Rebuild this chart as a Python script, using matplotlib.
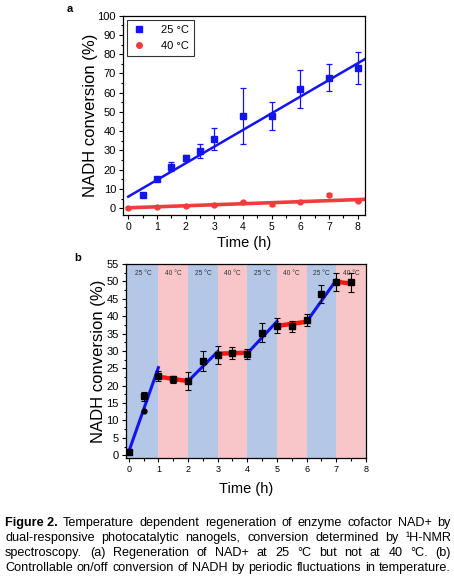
import matplotlib
matplotlib.use("Agg")
import matplotlib.pyplot as plt
import numpy as np
from matplotlib.lines import Line2D
from matplotlib.ticker import MultipleLocator

plt.rcParams["font.family"] = ["Liberation Sans", "DejaVu Sans"]
plt.rcParams["axes.linewidth"] = 0.9

BLUE = "#1414f0"
RED = "#f03c3c"
BAND_BLUE = "#b4c7e6"
BAND_RED = "#f8c6c8"

# panel a: conversion at constant temperature
time_25 = [0.5, 1, 1.5, 2, 2.5, 3, 4, 5, 6, 7, 8]
conv_25 = [6.8, 15.4, 21.5, 26.2, 29.7, 35.8, 47.9, 48.0, 61.8, 67.9, 72.8]
err_25 = [0.4, 1.0, 2.3, 1.5, 3.5, 5.7, 14.3, 7.3, 9.8, 6.8, 8.5]
time_40 = [0, 1, 2, 3, 4, 5, 6, 7, 8]
conv_40 = [0.0, 0.5, 1.2, 1.8, 3.0, 2.0, 3.3, 7.1, 3.8]
err_40 = [0.4, 0.5, 0.6, 0.8, 0.8, 0.7, 0.8, 1.0, 0.6]
fit_x = [0, 8.25]
fit_25 = [6.0, 77.5]
fit_40 = [0.2, 4.6]

# panel b: periodic switching 25 / 40 C
time_b = [0, 0.5, 1, 1.5, 2, 2.5, 3, 3.5, 4, 4.5, 5, 5.5, 6, 6.5, 7, 7.5]
conv_b = [1.0, 17.0, 22.8, 21.8, 21.3, 27.1, 28.8, 29.4, 29.2, 35.3, 37.3, 37.1, 38.8, 46.3, 49.9, 49.7]
err_b = [0.3, 1.3, 1.5, 0.9, 2.5, 2.9, 2.5, 1.8, 1.5, 2.6, 2.2, 1.6, 1.7, 2.6, 2.6, 2.8]
extra_time_b = [0.5]
extra_conv_b = [12.8]
seg_25_x = [[0, 1], [2, 3], [4, 5], [6, 7]]
seg_25_y = [[1.0, 25.2], [21.3, 29.8], [29.3, 38.5], [38.4, 50.4]]
seg_40_x = [[1, 2], [3, 4], [5, 6], [7, 7.5]]
seg_40_y = [[22.6, 21.3], [29.2, 29.5], [37.2, 38.4], [49.9, 49.4]]
band_edges = [-0.1, 1, 2, 3, 4, 5, 6, 7, 8]
band_labels = ["25 °C", "40 °C", "25 °C", "40 °C", "25 °C", "40 °C", "25 °C", "40 °C"]

caption = [
    [("Figure 2.", "bold"), ("Temperature", "normal"), ("dependent", "normal"), ("regeneration", "normal"),
     ("of", "normal"), ("enzyme", "normal"), ("cofactor", "normal"), ("NAD+", "normal"), ("by", "normal")],
    "dual-responsive photocatalytic nanogels, conversion determined by ¹H-NMR",
    "spectroscopy. (a) Regeneration of NAD+ at 25 °C but not at 40 °C. (b)",
    "Controllable on/off conversion of NADH by periodic fluctuations in temperature.",
]

fig = plt.figure(figsize=(4.54, 5.83), dpi=100)


def style_axis(ax):
    ax.tick_params(which="both", direction="out", labelsize=7.5, width=0.8, pad=2)
    ax.tick_params(which="major", length=3)
    ax.tick_params(which="minor", length=1.8)


# ---- panel a
ax1 = fig.add_axes([0.271, 0.631, 0.533, 0.342])
ax1.plot(fit_x, fit_25, color=BLUE, lw=1.8, zorder=2)
ax1.plot(fit_x, fit_40, color=RED, lw=2.6, zorder=2)
ax1.errorbar(time_25, conv_25, yerr=err_25, fmt="s", ms=4.5, color=BLUE, elinewidth=0.9,
             capsize=2.2, capthick=0.9, zorder=3)
ax1.errorbar(time_40, conv_40, yerr=err_40, fmt="o", ms=3.5, color=RED, elinewidth=0.9,
             capsize=2.2, capthick=0.9, zorder=3)
ax1.set_xlim(-0.18, 8.25)
ax1.set_ylim(-3.6, 100)
ax1.xaxis.set_major_locator(MultipleLocator(1))
ax1.xaxis.set_minor_locator(MultipleLocator(0.5))
ax1.yaxis.set_major_locator(MultipleLocator(10))
ax1.yaxis.set_minor_locator(MultipleLocator(5))
style_axis(ax1)
ax1.tick_params(axis="y", labelsize=8)
ax1.set_xlabel("Time (h)", fontsize=10.5, labelpad=3)
ax1.set_ylabel("NADH conversion (%)", fontsize=12, labelpad=0)
handles = [Line2D([], [], ls="none", marker="s", ms=4, color=BLUE),
           Line2D([], [], ls="none", marker="o", ms=4, color=RED)]
leg = ax1.legend(handles, ["25 °C", "40 °C"], loc="upper left", fontsize=8, frameon=True,
                 fancybox=False, handletextpad=1.4, borderpad=0.45, handlelength=1.2,
                 borderaxespad=0.4, labelspacing=0.5)
leg.get_frame().set_edgecolor("black")
leg.get_frame().set_linewidth(0.8)
fig.text(70 / 454, 1 - 9 / 583, "a", fontsize=8, fontweight="bold", ha="center", va="center")

# ---- panel b
ax2 = fig.add_axes([0.277, 0.2144, 0.529, 0.3327])
for i, lab in enumerate(band_labels):
    col = BAND_BLUE if lab.startswith("25") else BAND_RED
    ax2.axvspan(band_edges[i], band_edges[i + 1], color=col, lw=0, zorder=0)
    ax2.text((max(band_edges[i], 0) + band_edges[i + 1]) / 2, 52.4, lab, fontsize=4.8,
             color="#333333", ha="center", va="center", zorder=1)
for xs, ys in zip(seg_25_x, seg_25_y):
    ax2.plot(xs, ys, color=BLUE, lw=2.2, zorder=2)
for xs, ys in zip(seg_40_x, seg_40_y):
    ax2.plot(xs, ys, color="#ff1414", lw=3.2, zorder=2)
ax2.errorbar(time_b, conv_b, yerr=err_b, fmt="s", ms=4, color="black", elinewidth=0.8,
             capsize=2.2, capthick=0.8, zorder=3)
ax2.plot(extra_time_b, extra_conv_b, "o", ms=3.5, color="black", zorder=3)
ax2.set_xlim(-0.1, 8)
ax2.set_ylim(-0.8, 55)
ax2.xaxis.set_major_locator(MultipleLocator(1))
ax2.xaxis.set_minor_locator(MultipleLocator(0.5))
ax2.yaxis.set_major_locator(MultipleLocator(5))
ax2.yaxis.set_minor_locator(MultipleLocator(2.5))
style_axis(ax2)
ax2.tick_params(axis="x", labelsize=6.5)
ax2.tick_params(axis="y", labelsize=8)
ax2.set_xlabel("Time (h)", fontsize=10.5, labelpad=6)
ax2.set_ylabel("NADH conversion (%)", fontsize=12, labelpad=0)
fig.text(78 / 454, 1 - 258 / 583, "b", fontsize=8, fontweight="bold", ha="center", va="center")

# ---- justified caption
renderer = fig.canvas.get_renderer()
x_left, x_right = 5, 451
line_y = [523, 538, 553, 568]
for line, y in zip(caption, line_y):
    tokens = line if isinstance(line, list) else [(w, "normal") for w in line.split(" ")]
    texts = [fig.text(0, 1 - y / 583, w, fontsize=9.1, fontweight=wt, ha="left", va="center")
             for w, wt in tokens]
    widths = [t.get_window_extent(renderer).width for t in texts]
    gap = (x_right - x_left - sum(widths)) / (len(texts) - 1)
    pos = x_left
    for t, w in zip(texts, widths):
        t.set_x(pos / 454)
        pos += w + gap

fig.savefig("out.png", dpi=100, facecolor="white")
